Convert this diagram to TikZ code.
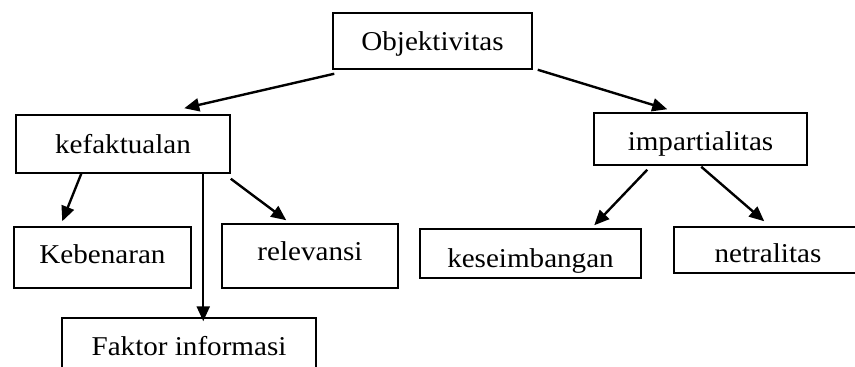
\documentclass[tikz,border=0pt]{standalone}
\usepackage{fontspec}
\setmainfont{Liberation Serif}
\usetikzlibrary{arrows.meta,calc}
\newcommand{\wtxt}[1]{\scalebox{1.07}[1]{#1}}
\tikzset{
  box/.style={draw, line width=1.5pt, inner sep=0pt, text depth=6pt,
    font=\fontsize{27.2}{32}\selectfont},
  arr/.style={line width=2.4pt, -{Triangle[length=15pt,width=13pt]}}
}
\begin{document}
\begin{tikzpicture}[x=1pt,y=-1pt]
\useasboundingbox (0,0) rectangle (855,367);
\clip (0,0) rectangle (855,367);
\node[box, minimum width=199pt, minimum height=56pt, text height=24pt] (obj) at (432.5,41) {\wtxt{Objektivitas}};
\node[box, minimum width=214pt, minimum height=58pt, text height=24pt] (kef) at (123,144) {\wtxt{kefaktualan}};
\node[box, minimum width=213pt, minimum height=52pt, text height=28pt] (imp) at (700.5,139) {\wtxt{impartialitas}};
\node[box, minimum width=177pt, minimum height=61pt, text height=17pt] (keb) at (102.5,257.5) {\wtxt{Kebenaran}};
\node[box, minimum width=176pt, minimum height=64pt, text height=14pt] (rel) at (310,256) {\wtxt{relevansi}};
\node[box, minimum width=254pt, minimum height=74pt, text height=6pt] (fak) at (189,355) {\wtxt{Faktor informasi}};
\node[box, minimum width=221pt, minimum height=49pt, text height=33pt] (kes) at (530.5,253.5) {\wtxt{keseimbangan}};
\node[box, minimum width=188pt, minimum height=46pt, text height=30pt] (net) at (768,250) {\wtxt{netralitas}};

\draw[arr] ($(obj.south west)+(2,4)$) -- ($(kef.north west)+(169,-6)$);
\draw[arr] ($(obj.south east)+(5,0)$) -- ($(imp.north west)+(74,-3)$);
\draw[arr] ($(kef.south west)+(66,0)$) -- ($(keb.north west)+(49,-5)$);
\draw[arr] ($(kef.south west)+(188,0)$) -- ($(fak.north west)+(142,4)$);
\draw[arr] ($(kef.south east)+(0,5)$) -- ($(rel.north west)+(65,-3)$);
\draw[arr] ($(imp.south west)+(54,4)$) -- ($(kes.north west)+(175,-3)$);
\draw[arr] ($(imp.south west)+(108,1)$) -- ($(net.north west)+(91,-5)$);
\end{tikzpicture}
\end{document}
